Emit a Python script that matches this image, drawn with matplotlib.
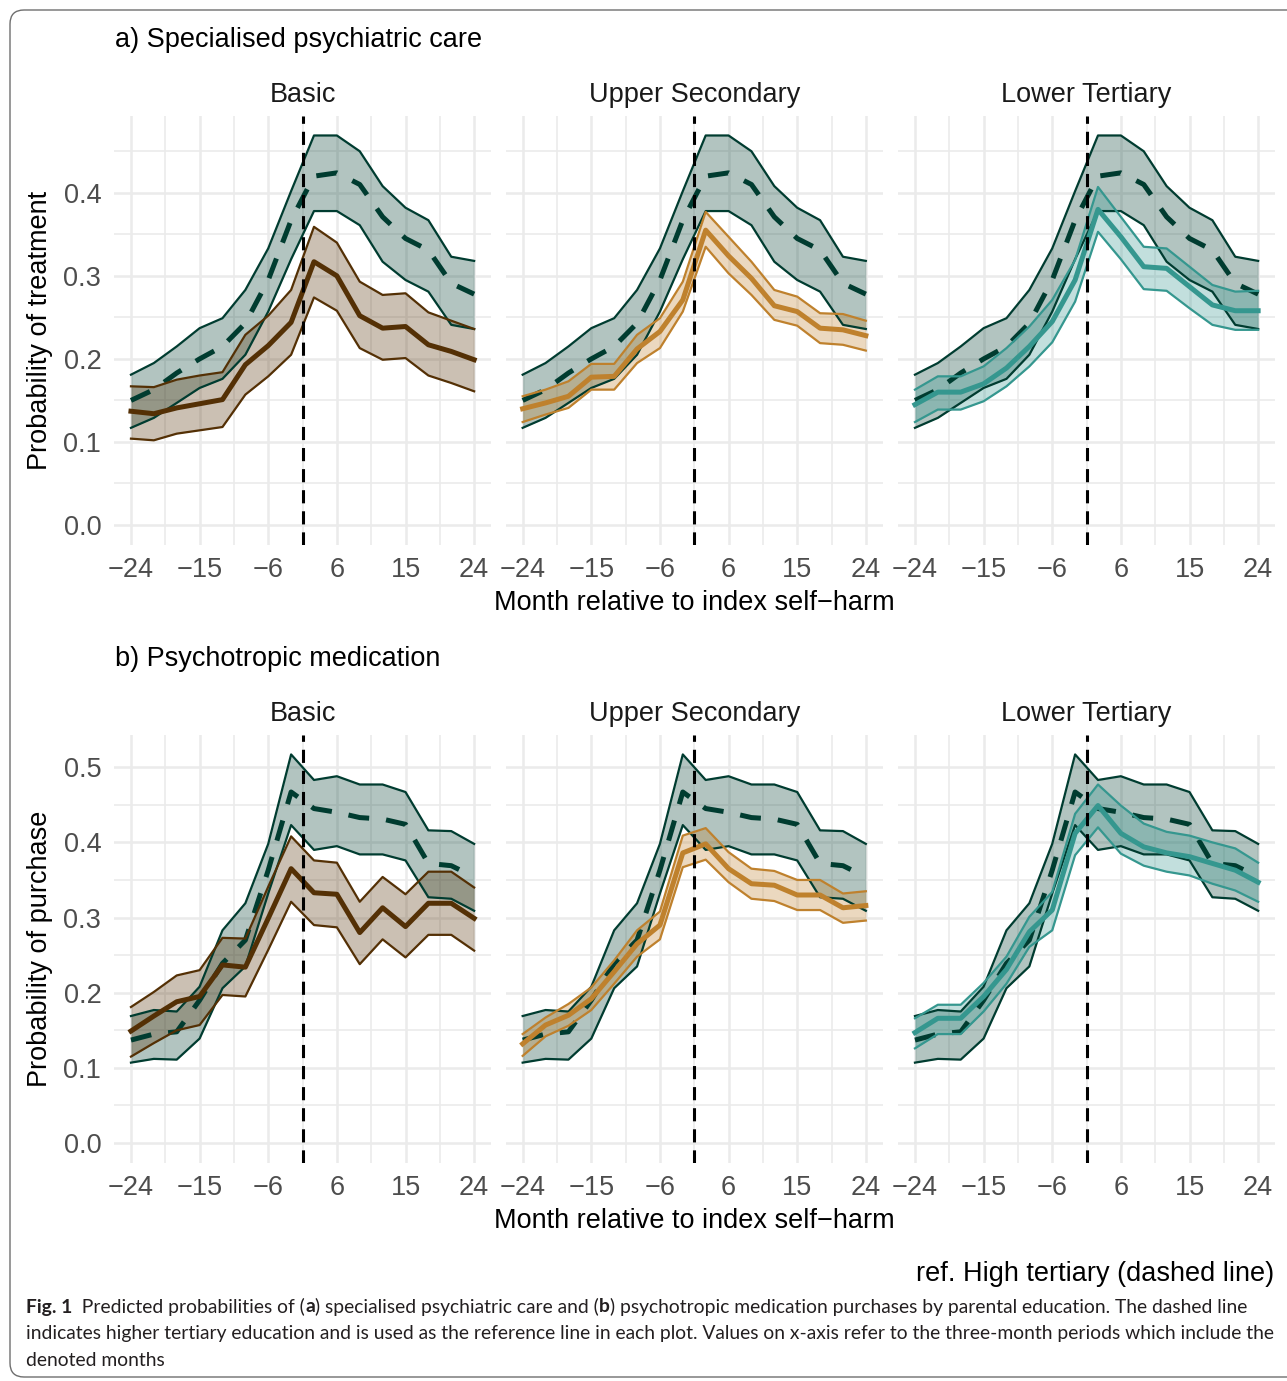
"""Predicted probabilities of psychiatric care / medication by parental education.

Two rows of three facets (Basic, Upper Secondary, Lower Tertiary), each
compared with the High tertiary reference (dashed line + band).
"""
import numpy as np
import matplotlib
matplotlib.use("Agg")
import matplotlib.pyplot as plt
from matplotlib.patches import FancyBboxPatch

plt.rcParams["font.family"] = ["Liberation Sans", "DejaVu Sans"]

MONTHS = [-24, -21, -18, -15, -12, -9, -6, -3, 3, 6, 9, 12, 15, 18, 21, 24]
TICK_MONTHS = [-24, -15, -6, 6, 15, 24]
GROUPS = ["Basic", "Upper Secondary", "Lower Tertiary"]

# ---- a) specialised psychiatric care ------------------------------------
a_ref_est = [0.150, 0.163, 0.183, 0.200, 0.215, 0.243, 0.295, 0.367,
             0.420, 0.424, 0.410, 0.371, 0.345, 0.331, 0.291, 0.278]
a_ref_lo = [0.117, 0.129, 0.147, 0.165, 0.176, 0.205, 0.257, 0.320,
            0.378, 0.378, 0.361, 0.317, 0.295, 0.281, 0.241, 0.236]
a_ref_hi = [0.181, 0.195, 0.215, 0.237, 0.249, 0.283, 0.333, 0.402,
            0.469, 0.469, 0.450, 0.408, 0.382, 0.367, 0.323, 0.318]

a_basic_est = [0.137, 0.134, 0.141, 0.146, 0.151, 0.193, 0.216, 0.244,
               0.317, 0.300, 0.252, 0.237, 0.239, 0.217, 0.209, 0.199]
a_basic_lo = [0.104, 0.102, 0.110, 0.114, 0.118, 0.157, 0.179, 0.205,
              0.274, 0.258, 0.213, 0.199, 0.201, 0.180, 0.171, 0.161]
a_basic_hi = [0.167, 0.166, 0.175, 0.180, 0.184, 0.229, 0.252, 0.283,
              0.359, 0.340, 0.293, 0.277, 0.279, 0.256, 0.246, 0.236]

a_upper_est = [0.140, 0.147, 0.155, 0.178, 0.179, 0.212, 0.233, 0.271,
               0.355, 0.324, 0.297, 0.264, 0.257, 0.237, 0.235, 0.228]
a_upper_lo = [0.124, 0.133, 0.141, 0.163, 0.163, 0.195, 0.213, 0.257,
              0.335, 0.303, 0.277, 0.247, 0.240, 0.219, 0.217, 0.210]
a_upper_hi = [0.155, 0.163, 0.173, 0.194, 0.194, 0.229, 0.249, 0.293,
              0.377, 0.347, 0.317, 0.283, 0.275, 0.255, 0.254, 0.246]

a_lower_est = [0.145, 0.160, 0.160, 0.170, 0.189, 0.215, 0.245, 0.295,
               0.380, 0.347, 0.311, 0.309, 0.287, 0.265, 0.258, 0.258]
a_lower_lo = [0.124, 0.139, 0.139, 0.149, 0.167, 0.191, 0.220, 0.269,
              0.353, 0.320, 0.284, 0.282, 0.261, 0.241, 0.235, 0.235]
a_lower_hi = [0.163, 0.179, 0.179, 0.191, 0.213, 0.239, 0.271, 0.319,
              0.407, 0.371, 0.335, 0.333, 0.311, 0.289, 0.281, 0.282]

# ---- b) psychotropic medication -----------------------------------------
b_ref_est = [0.137, 0.145, 0.148, 0.190, 0.239, 0.270, 0.363, 0.467,
             0.445, 0.440, 0.433, 0.431, 0.424, 0.372, 0.369, 0.354]
b_ref_lo = [0.107, 0.112, 0.111, 0.139, 0.206, 0.235, 0.332, 0.423,
            0.390, 0.395, 0.384, 0.384, 0.376, 0.327, 0.325, 0.309]
b_ref_hi = [0.169, 0.177, 0.175, 0.208, 0.283, 0.319, 0.398, 0.517,
            0.483, 0.488, 0.477, 0.477, 0.467, 0.416, 0.415, 0.398]

b_basic_est = [0.149, 0.169, 0.188, 0.195, 0.237, 0.234, 0.299, 0.365,
               0.333, 0.331, 0.280, 0.313, 0.288, 0.319, 0.319, 0.299]
b_basic_lo = [0.115, 0.133, 0.150, 0.157, 0.197, 0.195, 0.257, 0.321,
              0.290, 0.287, 0.238, 0.271, 0.247, 0.277, 0.277, 0.256]
b_basic_hi = [0.181, 0.201, 0.223, 0.230, 0.273, 0.272, 0.341, 0.408,
              0.376, 0.373, 0.321, 0.354, 0.331, 0.361, 0.361, 0.340]

b_upper_est = [0.132, 0.157, 0.170, 0.192, 0.228, 0.265, 0.290, 0.386,
               0.398, 0.365, 0.345, 0.343, 0.330, 0.330, 0.313, 0.316]
b_upper_lo = [0.116, 0.142, 0.156, 0.177, 0.212, 0.248, 0.271, 0.367,
              0.377, 0.347, 0.325, 0.322, 0.310, 0.310, 0.293, 0.296]
b_upper_hi = [0.145, 0.167, 0.185, 0.207, 0.243, 0.283, 0.308, 0.409,
              0.419, 0.387, 0.365, 0.362, 0.350, 0.350, 0.332, 0.335]

b_lower_est = [0.147, 0.166, 0.166, 0.195, 0.231, 0.281, 0.310, 0.412,
               0.449, 0.412, 0.394, 0.386, 0.381, 0.372, 0.363, 0.347]
b_lower_lo = [0.126, 0.145, 0.145, 0.175, 0.212, 0.261, 0.283, 0.383,
              0.420, 0.385, 0.369, 0.361, 0.356, 0.345, 0.336, 0.321]
b_lower_hi = [0.166, 0.184, 0.184, 0.213, 0.248, 0.301, 0.334, 0.438,
              0.477, 0.449, 0.425, 0.414, 0.409, 0.400, 0.392, 0.373]

REF_COLOR = "#003c30"
GROUP_COLORS = ["#543005", "#bf812d", "#35978f"]

PANELS = [
    dict(title="a) Specialised psychiatric care",
         ylabel="Probability of treatment",
         ref=(a_ref_est, a_ref_lo, a_ref_hi),
         groups=[(a_basic_est, a_basic_lo, a_basic_hi),
                 (a_upper_est, a_upper_lo, a_upper_hi),
                 (a_lower_est, a_lower_lo, a_lower_hi)],
         ymajor=[0.0, 0.1, 0.2, 0.3, 0.4]),
    dict(title="b) Psychotropic medication",
         ylabel="Probability of purchase",
         ref=(b_ref_est, b_ref_lo, b_ref_hi),
         groups=[(b_basic_est, b_basic_lo, b_basic_hi),
                 (b_upper_est, b_upper_lo, b_upper_hi),
                 (b_lower_est, b_lower_lo, b_lower_hi)],
         ymajor=[0.0, 0.1, 0.2, 0.3, 0.4, 0.5]),
]

W, H = 1287, 1381
FS = 19.5
GRID = "#ebebeb"


def fmt_month(m):
    return f"\u2212{abs(m)}" if m < 0 else f"{m}"


def band(ax, x, est, lo, hi, color, dashed=False):
    ax.fill_between(x, lo, hi, color=color, alpha=0.3, lw=0, zorder=2)
    ax.plot(x, lo, color=color, lw=1.6, zorder=3)
    ax.plot(x, hi, color=color, lw=1.6, zorder=3)
    if dashed:
        ax.plot(x, est, color=color, lw=3.6, dashes=(4.2, 3.4), zorder=3)
    else:
        ax.plot(x, est, color=color, lw=3.6, zorder=3)


def main():
    fig = plt.figure(figsize=(W / 100, H / 100), dpi=100)

    # pixel-space overlay for the frame and free text
    bg = fig.add_axes([0, 0, 1, 1], zorder=-1)
    bg.set_xlim(0, W)
    bg.set_ylim(H, 0)
    bg.axis("off")
    bg.add_patch(FancyBboxPatch((10, 10), 1300, 1367,
                                boxstyle="round,pad=0,rounding_size=14",
                                fc="white", ec="#6e6e6e", lw=1.0))

    x = np.arange(len(MONTHS))
    tick_idx = [MONTHS.index(m) for m in TICK_MONTHS]
    minor_idx = [(a + b) / 2 for a, b in zip(tick_idx[:-1], tick_idx[1:])]
    vline_x = (MONTHS.index(-3) + MONTHS.index(3)) / 2

    panel_left = [113.8, 505.5, 897.8]
    panel_w = 377.5
    rows = [(116.0, 544.5), (735.0, 1162.5)]

    for r, (panel, (top, bot)) in enumerate(zip(PANELS, rows)):
        ymax = max(max(panel["ref"][2]), *(max(g[2]) for g in panel["groups"]))
        ylim = (-0.05 * ymax, 1.05 * ymax)
        ystep = panel["ymajor"][1] - panel["ymajor"][0]
        yminor = [v + ystep / 2 for v in panel["ymajor"]]

        for c, (name, grp, col) in enumerate(zip(GROUPS, panel["groups"],
                                                  GROUP_COLORS)):
            ax = fig.add_axes([panel_left[c] / W, 1 - bot / H,
                               panel_w / W, (bot - top) / H])
            band(ax, x, *panel["ref"], REF_COLOR, dashed=True)
            band(ax, x, *grp, col)
            ax.axvline(vline_x, color="black", lw=2.2, dashes=(4.3, 2.6),
                       zorder=4)

            ax.set_xlim(-0.75, len(MONTHS) - 1 + 0.75)
            ax.set_ylim(*ylim)
            ax.set_xticks(tick_idx)
            ax.set_xticklabels([fmt_month(m) for m in TICK_MONTHS])
            ax.set_xticks(minor_idx, minor=True)
            ax.set_yticks(panel["ymajor"])
            ax.set_yticks([v for v in yminor if v < ylim[1]], minor=True)
            if c == 0:
                ax.set_yticklabels([f"{v:.1f}" for v in panel["ymajor"]])
            else:
                ax.set_yticklabels([])
            ax.tick_params(which="both", length=0, labelsize=FS,
                           labelcolor="#4d4d4d", pad=9)
            ax.grid(which="major", color=GRID, lw=1.8, zorder=0)
            ax.grid(which="minor", color=GRID, lw=1.2, zorder=0)
            ax.set_axisbelow(True)
            for s in ax.spines.values():
                s.set_visible(False)
            ax.patch.set_alpha(0)

            bg.text(panel_left[c] + panel_w / 2, top - 21, name,
                    ha="center", va="center", fontsize=FS, color="#1a1a1a")

        bg.text(115, top - 76, panel["title"], ha="left", va="center",
                fontsize=FS, color="black")
        bg.text(40, (top + bot) / 2, panel["ylabel"], rotation=90,
                ha="center", va="center", fontsize=FS, color="black")
        bg.text((panel_left[0] + panel_left[2] + panel_w) / 2, bot + 58,
                "Month relative to index self\u2212harm",
                ha="center", va="center", fontsize=FS, color="black")

    bg.text(1274, 1274, "ref. High tertiary (dashed line)", ha="right",
            va="center", fontsize=FS, color="black")

    # caption, fitted to the width of the printed figure legend
    cap_font = ["Lato", "DejaVu Sans"]
    lines = [
        [("Fig. 1", "bold"), ("  Predicted probabilities of (", "normal"),
         ("a", "bold"), (") specialised psychiatric care and (", "normal"),
         ("b", "bold"),
         (") psychotropic medication purchases by parental education. "
          "The dashed line", "normal")],
        [("indicates higher tertiary education and is used as the reference "
          "line in each plot. Values on x-axis refer to the three-month "
          "periods which include the", "normal")],
        [("denoted months", "normal")],
    ]
    fig.canvas.draw()
    renderer = fig.canvas.get_renderer()
    probe = bg.text(0, 0, lines[1][0][0], fontsize=12, family=cap_font)
    wpx = probe.get_window_extent(renderer).width
    probe.remove()
    cap_fs = 12 * 1248 / wpx

    for i, pieces in enumerate(lines):
        xpos = 26
        ypos = 1307 + i * 26.5
        for txt, weight in pieces:
            t = bg.text(xpos, ypos, txt, ha="left", va="center",
                        fontsize=cap_fs, family=cap_font, fontweight=weight,
                        color="#231f20")
            xpos += t.get_window_extent(renderer).width

    fig.savefig("out.png", dpi=100)


if __name__ == "__main__":
    main()
